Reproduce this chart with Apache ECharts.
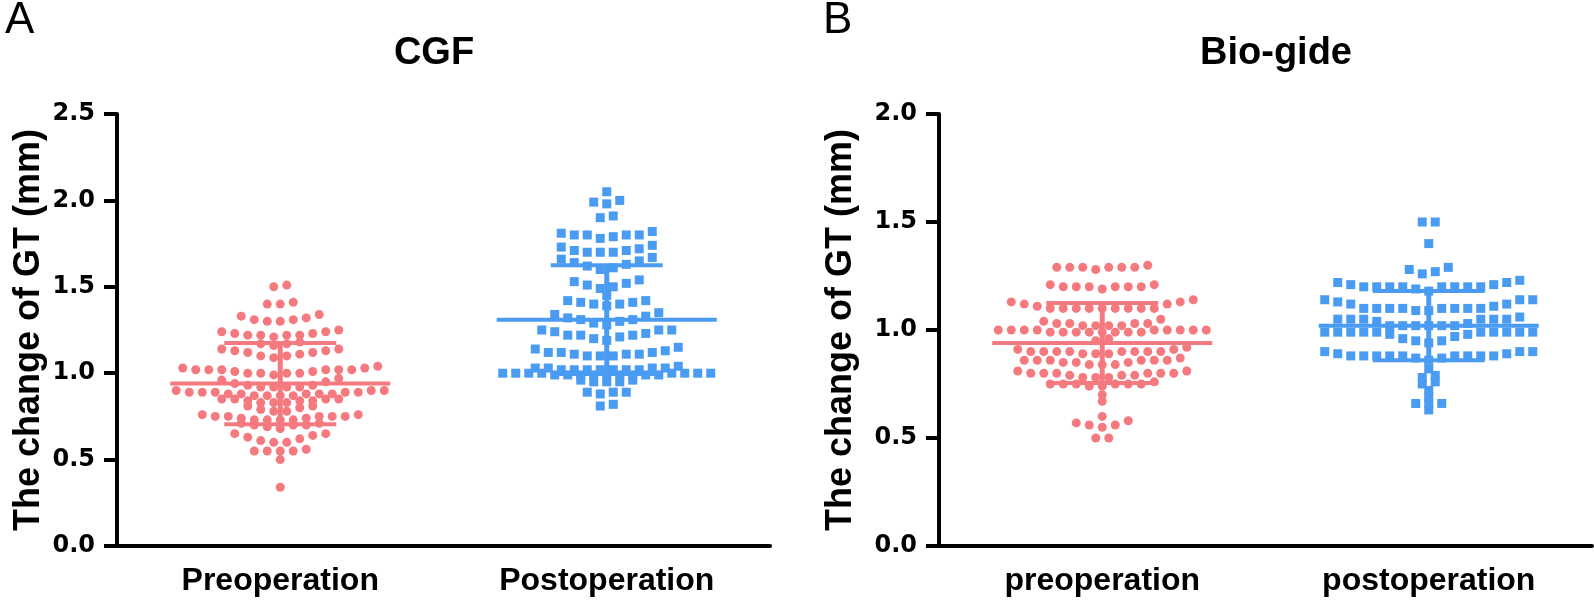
<!DOCTYPE html>
<html><head><meta charset="utf-8">
<script src="https://cdn.jsdelivr.net/npm/echarts@6/dist/echarts.min.js"></script>
<style>html,body{margin:0;padding:0;background:#fff}#c{width:1594px;height:600px}</style>
</head><body><div id="c"></div>
<script>
// ---------------- data ----------------
const cgfCategories = ['Preoperation', 'Postoperation'];
const bioCategories = ['preoperation', 'postoperation'];
const cgfTitle = 'CGF';
const bioTitle = 'Bio-gide';
const yName = 'The change of GT (mm)';
const cgfYMax = 2.5, bioYMax = 2.0, yStep = 0.5;

const cgfPre = [
  1.51, 1.50,
  1.40, 1.40, 1.41,
  1.30, 1.30, 1.31, 1.31, 1.32, 1.33, 1.34,
  1.21, 1.22, 1.22, 1.22, 1.22, 1.23, 1.23, 1.24, 1.24, 1.25,
  1.16, 1.17, 1.17, 1.18,
  1.09, 1.10, 1.10, 1.11, 1.12, 1.12, 1.13, 1.13, 1.14, 1.14,
  0.99, 1.00, 1.00, 1.00, 1.00, 1.01, 1.01, 1.02, 1.02, 1.02, 1.02, 1.02, 1.02, 1.03, 1.03, 1.04,
  0.92, 0.92, 0.92, 0.92, 0.93, 0.93, 0.94, 0.95, 0.96, 0.97,
  0.87, 0.87, 0.87, 0.87, 0.88, 0.88, 0.88, 0.88, 0.88, 0.89, 0.89, 0.89, 0.89, 0.89, 0.90, 0.90, 0.90,
  0.83, 0.83, 0.83, 0.84, 0.84, 0.84, 0.85, 0.85, 0.85, 0.85,
  0.78, 0.78, 0.79, 0.80, 0.81, 0.81,
  0.73, 0.73, 0.73, 0.73, 0.74, 0.74, 0.75, 0.75, 0.75, 0.75, 0.75, 0.76, 0.76,
  0.68, 0.69, 0.70, 0.70, 0.70, 0.71, 0.71,
  0.60, 0.60, 0.61, 0.62, 0.63, 0.64, 0.65, 0.65,
  0.55, 0.55, 0.55, 0.55, 0.56,
  0.50,
  0.34
];
const cgfPost = [
  2.05,
  1.98, 1.99, 2.00,
  1.90, 1.91,
  1.78, 1.79, 1.80, 1.80, 1.80, 1.80, 1.81, 1.82,
  1.70, 1.70, 1.70, 1.71, 1.71, 1.72, 1.73, 1.74,
  1.60, 1.61, 1.62, 1.63, 1.64, 1.65, 1.66, 1.67,
  1.49, 1.50, 1.51, 1.52, 1.53, 1.54,
  1.45,
  1.39, 1.40, 1.40, 1.41, 1.41, 1.42, 1.42,
  1.28, 1.29, 1.30, 1.31, 1.31, 1.32, 1.33, 1.34, 1.35,
  1.19, 1.20, 1.21, 1.22, 1.22, 1.22, 1.23, 1.24, 1.25, 1.25, 1.25,
  1.10, 1.10, 1.10, 1.11, 1.11, 1.11, 1.12, 1.12, 1.12, 1.13, 1.14, 1.15,
  1.02, 1.02, 1.02, 1.02, 1.02, 1.02, 1.02, 1.03, 1.03, 1.03, 1.03, 1.04,
  0.99, 0.99, 0.99, 0.99, 0.99, 0.99, 0.99, 0.99, 0.99, 1.00, 1.00, 1.00, 1.00, 1.00, 1.00, 1.00, 1.00,
  0.95, 0.95, 0.95, 0.96, 0.96,
  0.88, 0.89, 0.89, 0.89,
  0.81, 0.82
];
const bioPre = [
  1.28, 1.29, 1.29, 1.29, 1.29, 1.29, 1.29, 1.30,
  1.19, 1.20, 1.20, 1.20, 1.20, 1.20, 1.20, 1.21, 1.21,
  1.10, 1.10, 1.10, 1.10, 1.10, 1.10, 1.10, 1.10, 1.10, 1.11, 1.12, 1.12, 1.13, 1.13, 1.14,
  1.02, 1.02, 1.02, 1.02, 1.03, 1.03, 1.03, 1.03, 1.04, 1.05,
  0.99, 0.99, 0.99, 0.99, 0.99, 0.99, 0.99, 0.99, 1.00, 1.00, 1.00, 1.00, 1.00, 1.00, 1.00, 1.00, 1.00,
  0.95, 0.96,
  0.89, 0.89, 0.89, 0.90, 0.90, 0.90, 0.90, 0.90, 0.90, 0.90, 0.90, 0.91, 0.91, 0.92,
  0.84, 0.84, 0.84, 0.85, 0.85, 0.85, 0.86, 0.86, 0.86, 0.86, 0.86, 0.86, 0.87,
  0.78, 0.78, 0.78, 0.79, 0.79, 0.79, 0.80, 0.80, 0.80, 0.80, 0.80, 0.80, 0.81, 0.81,
  0.74, 0.74, 0.75, 0.75, 0.75, 0.75, 0.75, 0.75, 0.76,
  0.70,
  0.67,
  0.60,
  0.55, 0.56, 0.56, 0.57, 0.58,
  0.50, 0.50
];
const bioPost = [
  1.50, 1.50,
  1.40,
  1.26, 1.27, 1.28, 1.29,
  1.18, 1.19, 1.20, 1.20, 1.20, 1.20, 1.20, 1.20, 1.20, 1.20, 1.21, 1.21, 1.22, 1.22, 1.23,
  1.09, 1.09, 1.10, 1.10, 1.10, 1.10, 1.10, 1.10, 1.10, 1.10, 1.11, 1.12, 1.12, 1.13, 1.14, 1.14, 1.14,
  1.02, 1.02, 1.02, 1.02, 1.02, 1.02, 1.03, 1.04, 1.05, 1.05, 1.05, 1.05, 1.05, 1.05, 1.06,
  0.94, 0.95, 0.95, 0.96, 0.97, 0.98, 0.98, 0.99, 0.99, 0.99, 0.99, 0.99, 0.99, 0.99, 0.99, 0.99, 0.99,
  0.86, 0.87, 0.87, 0.88, 0.88, 0.88, 0.88, 0.88, 0.88, 0.88, 0.88, 0.88, 0.89, 0.89, 0.90, 0.90, 0.90,
  0.82,
  0.78, 0.79,
  0.75, 0.76,
  0.72,
  0.69,
  0.66, 0.66, 0.66,
  0.63
];
// mean and SD drawn as lines
const cgfMean = [0.94, 1.31];
const cgfSD = [0.235, 0.315];
const bioMean = [0.94, 1.02];
const bioSD = [0.185, 0.16];

// ---------------- styling ----------------
const PINK = '#F57A7F';
const BLUE = '#4A9BF2';
const FONT = 'DejaVu Sans';
const FONT2 = 'Liberation Sans';
const SPACING_PX = 13;

const chart = echarts.init(document.getElementById('c'), null, { renderer: 'canvas' });

function catAxis(grid, cats) {
  return {
    type: 'category', gridIndex: grid, data: cats, boundaryGap: true,
    axisLine: { lineStyle: { color: '#000', width: 4 } },
    axisTick: { alignWithLabel: true, length: 14, lineStyle: { color: '#000', width: 4 } },
    axisLabel: { color: '#000', fontFamily: FONT2, fontWeight: 'bold', fontSize: 32, margin: 19 },
    splitLine: { show: false }
  };
}
function hiddenX(grid) {
  return { type: 'value', gridIndex: grid, min: 0, max: 2, show: false };
}
function yAxis(grid, max, gap) {
  return {
    type: 'value', gridIndex: grid, min: 0, max: max, interval: yStep,
    name: yName, nameLocation: 'middle', nameRotate: 90, nameGap: gap,
    nameTextStyle: { color: '#000', fontFamily: FONT2, fontWeight: 'bold', fontSize: 36 },
    axisLine: { show: true, lineStyle: { color: '#000', width: 4 } },
    axisTick: { show: true, length: 13, lineStyle: { color: '#000', width: 4 } },
    axisLabel: { color: '#000', fontFamily: FONT, fontWeight: 'bold', fontSize: 24, margin: 22,
                 formatter: v => v.toFixed(1) },
    splitLine: { show: false }
  };
}

const base = {
  animation: false,
  backgroundColor: '#fff',
  title: [
    { text: 'A', left: 0, top: -6, textStyle: { fontFamily: FONT2, fontWeight: 'normal', fontSize: 44, color: '#000' } },
    { text: 'B', left: 818, top: -6, textStyle: { fontFamily: FONT2, fontWeight: 'normal', fontSize: 44, color: '#000' } },
    { text: cgfTitle, left: 429, top: 30, textAlign: 'center', textStyle: { fontFamily: FONT2, fontWeight: 'bold', fontSize: 38, color: '#000' } },
    { text: bioTitle, left: 1271, top: 30, textAlign: 'center', textStyle: { fontFamily: FONT2, fontWeight: 'bold', fontSize: 38, color: '#000' } }
  ],
  grid: [
    { left: 117, top: 114, width: 653, height: 432 },
    { left: 939, top: 114, width: 653, height: 432 }
  ],
  xAxis: [catAxis(0, cgfCategories), hiddenX(0), catAxis(1, bioCategories), hiddenX(1)],
  yAxis: [yAxis(0, cgfYMax, 70), yAxis(1, bioYMax, 80)],
  series: []
};
chart.setOption(base);

// Prism-style scatter-dot layout: group close values into rows, spread each row around the category centre
function swarm(values, center, xAxisIndex) {
  const sorted = values.slice().sort((a, b) => a - b);
  const rows = []; let cur = [];
  sorted.forEach(v => {
    if (cur.length && v - cur[cur.length - 1] > 0.015) { rows.push(cur); cur = []; }
    cur.push(v);
  });
  if (cur.length) rows.push(cur);
  const p0 = chart.convertToPixel({ xAxisIndex: xAxisIndex }, center);
  const p1 = chart.convertToPixel({ xAxisIndex: xAxisIndex }, center + 1);
  const step = SPACING_PX / (p1 - p0);
  const pts = [];
  rows.forEach(r => {
    const n = r.length;
    r.forEach((v, k) => {
      let off;
      if (n % 2) { off = k === 0 ? 0 : (k % 2 ? -Math.ceil(k / 2) : k / 2); }
      else { const m = Math.floor(k / 2) + 0.5; off = k % 2 === 0 ? -m : m; }
      pts.push([center + off * step, v]);
    });
  });
  return pts;
}

function scatter(values, center, xi, yi, color, symbol) {
  return {
    type: 'scatter', xAxisIndex: xi, yAxisIndex: yi, silent: true,
    symbol: symbol, symbolSize: 9, itemStyle: { color: color, opacity: 1 },
    data: swarm(values, center, xi), z: 2
  };
}

function errorSeries(means, sds, xi, yi, colors) {
  return {
    type: 'custom', xAxisIndex: xi, yAxisIndex: yi, silent: true, z: 3,
    encode: { x: 0, y: 1 },
    data: means.map((m, i) => [0.5 + i, m, sds[i]]),
    renderItem: function (params, api) {
      const x = api.value(0), m = api.value(1), s = api.value(2);
      const c = api.coord([x, m]);
      const hi = api.coord([x, m + s]);
      const lo = api.coord([x, m - s]);
      const col = colors[params.dataIndex];
      const ls = (w) => ({ stroke: col, lineWidth: w, fill: null });
      return {
        type: 'group', children: [
          { type: 'line', shape: { x1: c[0] - 110, y1: c[1], x2: c[0] + 110, y2: c[1] }, style: ls(4) },
          { type: 'line', shape: { x1: hi[0] - 56, y1: hi[1], x2: hi[0] + 56, y2: hi[1] }, style: ls(4) },
          { type: 'line', shape: { x1: lo[0] - 56, y1: lo[1], x2: lo[0] + 56, y2: lo[1] }, style: ls(4) },
          { type: 'line', shape: { x1: c[0], y1: hi[1], x2: c[0], y2: lo[1] }, style: ls(5) }
        ]
      };
    }
  };
}

chart.setOption({
  series: [
    scatter(cgfPre, 0.5, 1, 0, PINK, 'circle'),
    scatter(cgfPost, 1.5, 1, 0, BLUE, 'rect'),
    scatter(bioPre, 0.5, 3, 1, PINK, 'circle'),
    scatter(bioPost, 1.5, 3, 1, BLUE, 'rect'),
    errorSeries(cgfMean, cgfSD, 1, 0, [PINK, BLUE]),
    errorSeries(bioMean, bioSD, 3, 1, [PINK, BLUE])
  ]
});
</script>
</body></html>
